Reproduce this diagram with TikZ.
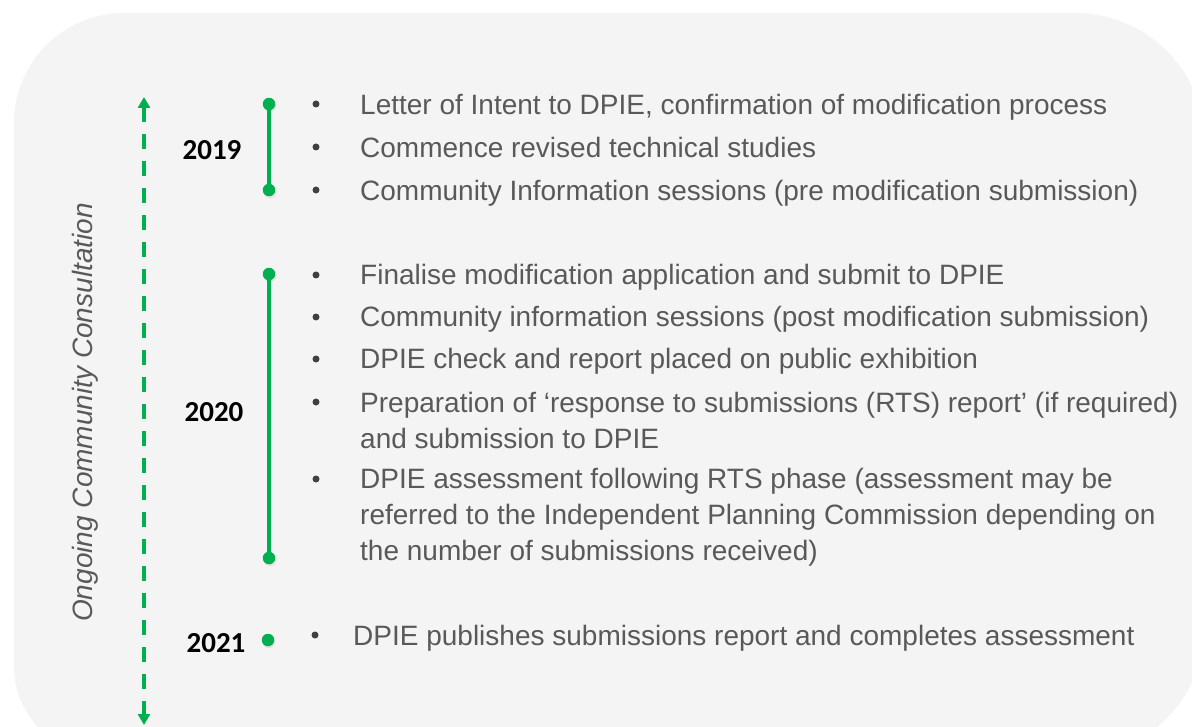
\documentclass[tikz,border=0pt]{standalone}
\usepackage{fontspec}
\setmainfont{Liberation Sans}
\newfontfamily\yearface{Carlito}
\usetikzlibrary{arrows.meta,shadows}

\definecolor{panel}{HTML}{F4F4F4}
\definecolor{tlgreen}{HTML}{00B050}
\definecolor{txtgray}{HTML}{595959}
\definecolor{bulgray}{HTML}{404040}

\newcommand{\itemfnt}{\fontsize{28}{34}\selectfont}
\newcommand{\yearfnt}{\yearface\bfseries\fontsize{29}{34}\selectfont}

\tikzset{
  item/.style={anchor=base west, inner sep=0pt, text=txtgray, font=\itemfnt},
  bul/.style={circle, fill=bulgray, inner sep=0pt, minimum size=7pt},
  gdot/.style={circle, fill=tlgreen, inner sep=0pt, minimum size=12.5pt,
    drop shadow={shadow xshift=0.8pt, shadow yshift=-1.8pt, opacity=0.18}},
  year/.style={anchor=base, inner sep=0pt, text=black, font=\yearfnt},
  bar/.style={draw=tlgreen, line width=3.6pt},
  consult/.style={draw=tlgreen, line width=4pt, dash pattern=on 15pt off 12pt,
    {Triangle[width=12pt,length=11pt]}-{Triangle[width=12pt,length=11pt]}},
  side/.style={anchor=base west, inner sep=0pt, text=txtgray, rotate=90,
    font=\itemfnt\itshape},
}

\begin{document}
\begin{tikzpicture}[x=1pt, y=-1pt]
  \useasboundingbox (0,0) rectangle (1192,727);
  \clip (0,0) rectangle (1192,727);

  % rounded grey panel behind the timeline
  \fill[panel] (14,400) [rounded corners=110pt] |- (600,13)
     [rounded corners=130pt] -| (1205,400) |- (600,756)
     [rounded corners=90pt] -| (14,400) -- cycle;

  % ongoing consultation arrow and its label
  \coordinate (ctop) at (144,97);
  \coordinate (cbot) at (144,725);
  \draw[consult] (ctop) -- (cbot);
  \node[side] (consultlbl) at (92,622) {Ongoing Community Consultation};

  % 2019
  \node[year] (y2019) at (212,160) {2019};
  \node[gdot] (d19a) at (269,104) {};
  \node[gdot] (d19b) at (269,190) {};
  \draw[bar] (d19a) -- (d19b);

  \node[bul] (b1) at (316,104) {};
  \node[item] (t1) at (360,115) {Letter of Intent to DPIE, confirmation of modification process};
  \node[bul] (b2) at (316,147) {};
  \node[item] (t2) at (360,158) {Commence revised technical studies};
  \node[bul] (b3) at (316,190) {};
  \node[item] (t3) at (360,201) {Community Information sessions (pre modification submission)};

  % 2020
  \node[year] (y2020) at (214,421) {2020};
  \node[gdot] (d20a) at (269,274) {};
  \node[gdot] (d20b) at (269,558) {};
  \draw[bar] (d20a) -- (d20b);

  \node[bul] (b4) at (316,275) {};
  \node[item] (t4) at (360,285) {Finalise modification application and submit to DPIE};
  \node[bul] (b5) at (316,317) {};
  \node[item] (t5) at (360,327) {Community information sessions (post modification submission)};
  \node[bul] (b6) at (316,359) {};
  \node[item] (t6) at (360,369) {DPIE check and report placed on public exhibition};
  \node[bul] (b7) at (316,402) {};
  \node[item] (t7a) at (360,412) {Preparation of ‘response to submissions (RTS) report’ (if required)};
  \node[item] (t7b) at (360,448) {and submission to DPIE};
  \node[bul] (b8) at (316,479) {};
  \node[item] (t8a) at (360,488) {DPIE assessment following RTS phase (assessment may be};
  \node[item] (t8b) at (360,524) {referred to the Independent Planning Commission depending on};
  \node[item] (t8c) at (360,560) {the number of submissions received)};

  % 2021
  \node[year] (y2021) at (216,652) {2021};
  \node[gdot] (d21) at (268,640) {};
  \node[bul] (b9) at (315,635) {};
  \node[item] (t9) at (353,645) {DPIE publishes submissions report and completes assessment};
\end{tikzpicture}
\end{document}
